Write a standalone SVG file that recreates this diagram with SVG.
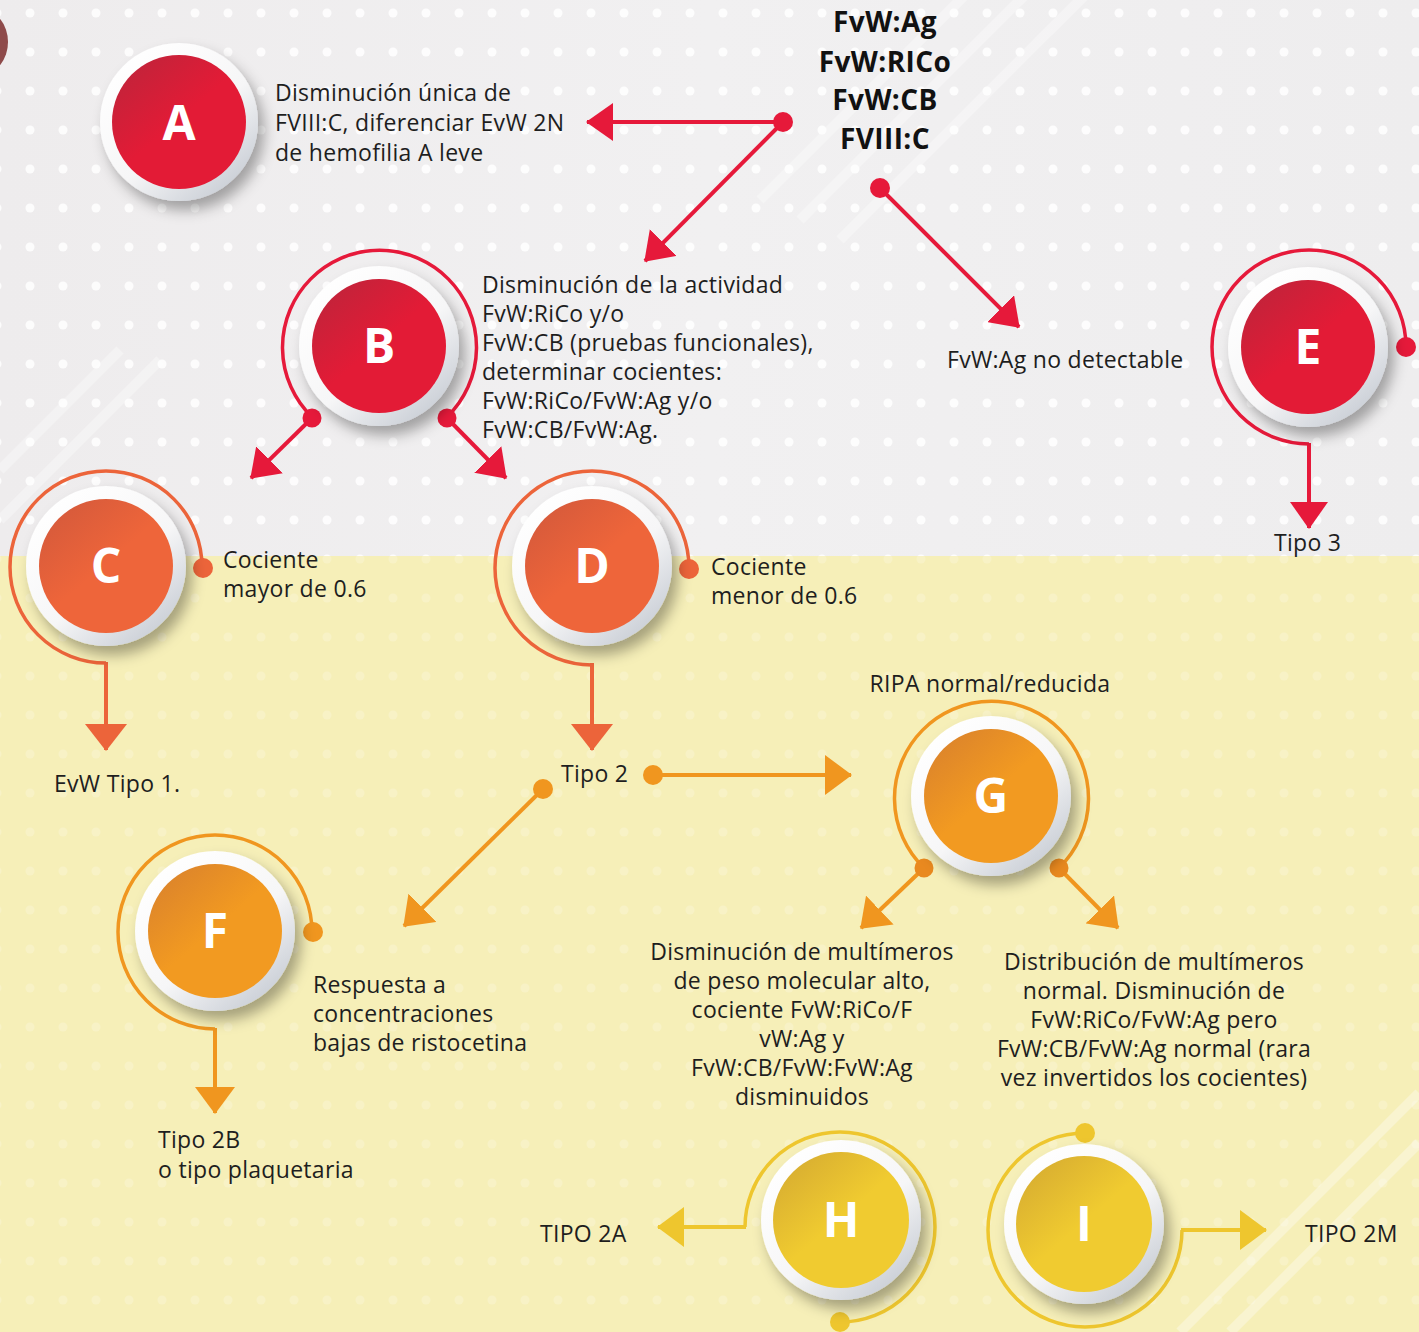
<svg xmlns="http://www.w3.org/2000/svg" width="1419" height="1332" viewBox="0 0 1419 1332">
<defs>
<style>
.t{font-family:"Open Sans","Liberation Sans",sans-serif;font-size:23px;letter-spacing:0.3px;fill:#1e1e1e;}
.tc{text-anchor:middle;}
.h{font-family:"Open Sans","Liberation Sans",sans-serif;font-size:28px;letter-spacing:0.4px;font-weight:700;fill:#111;text-anchor:middle;}
.L{font-family:"Open Sans","Liberation Sans",sans-serif;font-size:48px;font-weight:700;fill:#fff;text-anchor:middle;}
.arc{fill:none;stroke-width:3.5;}
.ln{fill:none;stroke-width:4;}
.red{stroke:#e6193a;}
.cor{stroke:#ec643a;}
.org{stroke:#f0961f;}
.yel{stroke:#eec62e;}
</style>
<pattern id="dots" x="14" y="-6" width="33" height="39" patternUnits="userSpaceOnUse">
<circle cx="16" cy="19" r="4.5" fill="#ffffff"/>
</pattern>
<linearGradient id="bgTop" x1="0" y1="0" x2="1" y2="0">
<stop offset="0" stop-color="#eeeced"/>
<stop offset="0.5" stop-color="#f1f0f1"/>
<stop offset="1" stop-color="#eeedee"/>
</linearGradient>
<linearGradient id="ring" x1="0.15" y1="0.1" x2="0.85" y2="0.95">
<stop offset="0" stop-color="#ffffff"/>
<stop offset="0.55" stop-color="#f6f6f7"/>
<stop offset="1" stop-color="#c7ccd4"/>
</linearGradient>
<linearGradient id="gRed" x1="0.1" y1="0.1" x2="0.7" y2="0.8">
<stop offset="0" stop-color="#c2233a"/>
<stop offset="0.6" stop-color="#e31b36"/>
</linearGradient>
<linearGradient id="gCor" x1="0.1" y1="0.1" x2="0.7" y2="0.8">
<stop offset="0" stop-color="#d65a3b"/>
<stop offset="0.6" stop-color="#ee653a"/>
</linearGradient>
<linearGradient id="gOrg" x1="0.1" y1="0.1" x2="0.7" y2="0.8">
<stop offset="0" stop-color="#dc842b"/>
<stop offset="0.6" stop-color="#f29a21"/>
</linearGradient>
<linearGradient id="gYel" x1="0.1" y1="0.1" x2="0.7" y2="0.8">
<stop offset="0" stop-color="#d8ae31"/>
<stop offset="0.6" stop-color="#f0cb30"/>
</linearGradient>
<filter id="sh" x="-40%" y="-40%" width="180%" height="180%">
<feDropShadow dx="6" dy="9" stdDeviation="7" flood-color="#000" flood-opacity="0.33"/>
</filter>
<marker id="mRed" markerUnits="userSpaceOnUse" markerWidth="28" markerHeight="38" refX="26" refY="19" orient="auto"><path d="M0,0 L27,19 L0,38 z" fill="#e6193a"/></marker>
<marker id="mCor" markerUnits="userSpaceOnUse" markerWidth="28" markerHeight="42" refX="26" refY="21" orient="auto"><path d="M0,0 L27,21 L0,42 z" fill="#ec643a"/></marker>
<marker id="mOrg" markerUnits="userSpaceOnUse" markerWidth="28" markerHeight="40" refX="26" refY="20" orient="auto"><path d="M0,0 L27,20 L0,40 z" fill="#f0961f"/></marker>
<marker id="mYel" markerUnits="userSpaceOnUse" markerWidth="28" markerHeight="40" refX="26" refY="20" orient="auto"><path d="M0,0 L27,20 L0,40 z" fill="#eec62e"/></marker>
</defs>

<g id="background">
<rect x="0" y="0" width="1419" height="556" fill="url(#bgTop)"/>
<rect x="0" y="556" width="1419" height="776" fill="#f6efb8"/>
<rect x="0" y="0" width="1419" height="556" fill="url(#dots)" opacity="0.85"/>
<rect x="0" y="556" width="1419" height="776" fill="url(#dots)" opacity="0.2"/>
<g stroke="#ffffff" stroke-width="10" opacity="0.35">
<line x1="760" y1="200" x2="1000" y2="-40"/>
<line x1="800" y1="220" x2="1060" y2="-40"/>
<line x1="840" y1="240" x2="1120" y2="-40"/>
<line x1="0" y1="470" x2="120" y2="350"/>
<line x1="0" y1="520" x2="160" y2="360"/>
<line x1="1180" y1="1332" x2="1419" y2="1093"/>
<line x1="1230" y1="1332" x2="1419" y2="1143"/>
</g>
<ellipse cx="-18" cy="42" rx="26" ry="32" fill="#8e4a4a"/>
</g>

<g id="connectors">
<line class="ln red" x1="783" y1="122" x2="587" y2="122" marker-end="url(#mRed)"/>
<line class="ln red" x1="783" y1="122" x2="645" y2="261" marker-end="url(#mRed)"/>
<circle cx="783" cy="122" r="10" fill="#e6193a"/>
<line class="ln red" x1="880" y1="188" x2="1019" y2="327" marker-end="url(#mRed)"/>
<circle cx="880" cy="188" r="10" fill="#e6193a"/>
<line class="ln red" x1="312" y1="418" x2="251" y2="478" marker-end="url(#mRed)"/>
<line class="ln red" x1="447" y1="418" x2="506" y2="478" marker-end="url(#mRed)"/>
<line class="ln red" x1="1309" y1="443" x2="1309" y2="528" marker-end="url(#mRed)"/>
<line class="ln cor" x1="106" y1="662" x2="106" y2="750" marker-end="url(#mCor)"/>
<line class="ln cor" x1="592" y1="663" x2="592" y2="750" marker-end="url(#mCor)"/>
<line class="ln org" x1="653" y1="775" x2="851" y2="775" marker-end="url(#mOrg)"/>
<circle cx="653" cy="775" r="10" fill="#f0961f"/>
<line class="ln org" x1="543" y1="789" x2="404" y2="926" marker-end="url(#mOrg)"/>
<circle cx="543" cy="789" r="10" fill="#f0961f"/>
<line class="ln org" x1="924" y1="868" x2="861" y2="928" marker-end="url(#mOrg)"/>
<line class="ln org" x1="1059" y1="868" x2="1118" y2="928" marker-end="url(#mOrg)"/>
<line class="ln org" x1="215" y1="1028" x2="215" y2="1113" marker-end="url(#mOrg)"/>
<line class="ln yel" x1="746" y1="1227" x2="658" y2="1227" marker-end="url(#mYel)"/>
<line class="ln yel" x1="1181" y1="1230" x2="1266" y2="1230" marker-end="url(#mYel)"/>
</g>

<g id="node-top">
<text class="h" x="885" y="32">FvW:Ag</text>
<text class="h" x="885" y="72">FvW:RICo</text>
<text class="h" x="885" y="110">FvW:CB</text>
<text class="h" x="885" y="149">FVIII:C</text>
</g>

<g id="node-A">
<circle cx="179" cy="122" r="79" fill="url(#ring)" filter="url(#sh)"/>
<circle cx="179" cy="122" r="67" fill="url(#gRed)"/>
<text class="L" x="179" y="140">A</text>
<text class="t" x="275" y="101">Disminución única de</text>
<text class="t" x="275" y="131">FVIII:C, diferenciar EvW 2N</text>
<text class="t" x="275" y="161">de hemofilia A leve</text>
</g>

<g id="node-B">
<path class="arc red" d="M312,417 A97,97 0 1 1 447,417"/>
<circle cx="312" cy="418" r="9.5" fill="#e6193a"/>
<circle cx="447" cy="418" r="9.5" fill="#e6193a"/>
<circle cx="379" cy="346" r="80" fill="url(#ring)" filter="url(#sh)"/>
<circle cx="379" cy="346" r="67" fill="url(#gRed)"/>
<text class="L" x="379" y="363">B</text>
<text class="t" x="482" y="293">Disminución de la actividad</text>
<text class="t" x="482" y="322">FvW:RiCo y/o</text>
<text class="t" x="482" y="351">FvW:CB (pruebas funcionales),</text>
<text class="t" x="482" y="380">determinar cocientes:</text>
<text class="t" x="482" y="409">FvW:RiCo/FvW:Ag y/o</text>
<text class="t" x="482" y="438">FvW:CB/FvW:Ag.</text>
</g>

<g id="node-E">
<path class="arc red" d="M1406,347 A97,97 0 1 0 1309,444"/>
<circle cx="1406" cy="347" r="10" fill="#e6193a"/>
<circle cx="1308" cy="347" r="80" fill="url(#ring)" filter="url(#sh)"/>
<circle cx="1308" cy="347" r="67" fill="url(#gRed)"/>
<text class="L" x="1308" y="364">E</text>
<text class="t" x="947" y="368">FvW:Ag no detectable</text>
</g>

<g id="node-tipo3"><text class="t" x="1274" y="551">Tipo 3</text></g>

<g id="node-C">
<path class="arc cor" d="M202,567 A96,96 0 1 0 106,663"/>
<circle cx="203" cy="568" r="10" fill="#ec643a"/>
<circle cx="106" cy="566" r="80" fill="url(#ring)" filter="url(#sh)"/>
<circle cx="106" cy="566" r="67" fill="url(#gCor)"/>
<text class="L" x="106" y="583">C</text>
<text class="t" x="223" y="568">Cociente</text>
<text class="t" x="223" y="597">mayor de 0.6</text>
</g>

<g id="node-D">
<path class="arc cor" d="M689,568 A97,97 0 1 0 592,665"/>
<circle cx="689" cy="569" r="10" fill="#ec643a"/>
<circle cx="592" cy="566" r="80" fill="url(#ring)" filter="url(#sh)"/>
<circle cx="592" cy="566" r="67" fill="url(#gCor)"/>
<text class="L" x="592" y="583">D</text>
<text class="t" x="711" y="575">Cociente</text>
<text class="t" x="711" y="604">menor de 0.6</text>
</g>

<g id="node-tipo1"><text class="t" x="54" y="792">EvW Tipo 1.</text></g>
<g id="node-tipo2"><text class="t" x="561" y="782">Tipo 2</text></g>

<g id="node-G">
<path class="arc org" d="M924,868 A97,97 0 1 1 1059,868"/>
<circle cx="924" cy="868" r="9.5" fill="#e9891f"/>
<circle cx="1059" cy="868" r="9.5" fill="#e9891f"/>
<circle cx="991" cy="796" r="80" fill="url(#ring)" filter="url(#sh)"/>
<circle cx="991" cy="796" r="67" fill="url(#gOrg)"/>
<text class="L" x="991" y="813">G</text>
<text class="t tc" x="990" y="692">RIPA normal/reducida</text>
</g>

<g id="node-G-left">
<text class="t tc" x="802" y="960">Disminución de multímeros</text>
<text class="t tc" x="802" y="989">de peso molecular alto,</text>
<text class="t tc" x="802" y="1018">cociente FvW:RiCo/F</text>
<text class="t tc" x="802" y="1047">vW:Ag y</text>
<text class="t tc" x="802" y="1076">FvW:CB/FvW:FvW:Ag</text>
<text class="t tc" x="802" y="1105">disminuidos</text>
</g>

<g id="node-G-right">
<text class="t tc" x="1154" y="970">Distribución de multímeros</text>
<text class="t tc" x="1154" y="999">normal.  Disminución de</text>
<text class="t tc" x="1154" y="1028">FvW:RiCo/FvW:Ag pero</text>
<text class="t tc" x="1154" y="1057">FvW:CB/FvW:Ag normal (rara</text>
<text class="t tc" x="1154" y="1086">vez invertidos los cocientes)</text>
</g>

<g id="node-F">
<path class="arc org" d="M312,932 A97,97 0 1 0 215,1029"/>
<circle cx="313" cy="932" r="10" fill="#f0961f"/>
<circle cx="215" cy="931" r="80" fill="url(#ring)" filter="url(#sh)"/>
<circle cx="215" cy="931" r="67" fill="url(#gOrg)"/>
<text class="L" x="215" y="948">F</text>
<text class="t" x="313" y="993">Respuesta a</text>
<text class="t" x="313" y="1022">concentraciones</text>
<text class="t" x="313" y="1051">bajas de ristocetina</text>
</g>

<g id="node-tipo2b">
<text class="t" x="158" y="1148">Tipo 2B</text>
<text class="t" x="158" y="1178">o tipo plaquetaria</text>
</g>

<g id="node-H">
<path class="arc yel" d="M840,1322 A95,95 0 1 0 745,1227"/>
<circle cx="840" cy="1322" r="10" fill="#eec62e"/>
<circle cx="841" cy="1220" r="80" fill="url(#ring)" filter="url(#sh)"/>
<circle cx="841" cy="1220" r="68" fill="url(#gYel)"/>
<text class="L" x="841" y="1237">H</text>
</g>
<g id="node-tipo2a"><text class="t" x="540" y="1242">TIPO 2A</text></g>

<g id="node-I">
<path class="arc yel" d="M1085,1133 A97,97 0 1 0 1182,1230"/>
<circle cx="1085" cy="1133" r="10" fill="#eec62e"/>
<circle cx="1084" cy="1224" r="80" fill="url(#ring)" filter="url(#sh)"/>
<circle cx="1084" cy="1224" r="68" fill="url(#gYel)"/>
<text class="L" x="1084" y="1241">I</text>
</g>
<g id="node-tipo2m"><text class="t" x="1305" y="1242">TIPO 2M</text></g>
</svg>
